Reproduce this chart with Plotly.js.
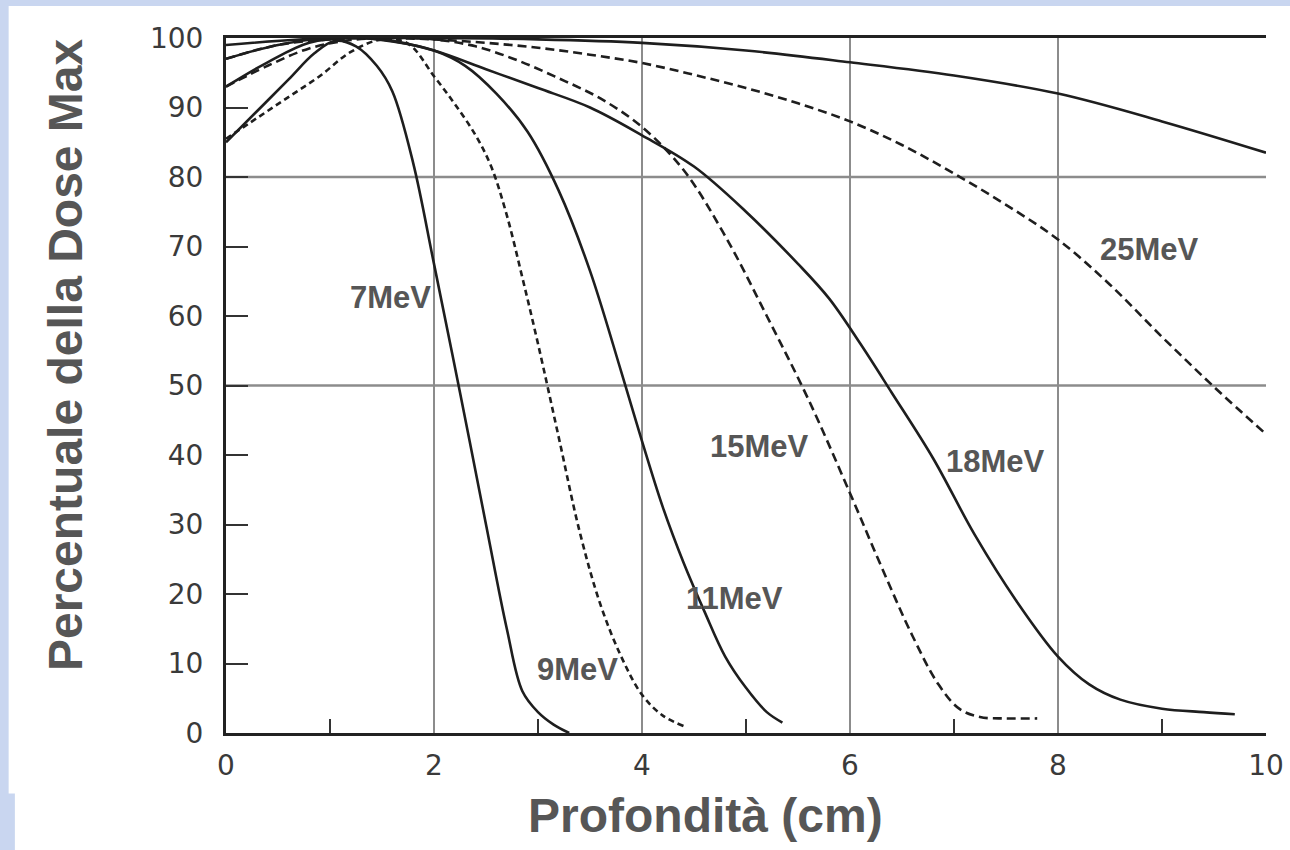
<!DOCTYPE html>
<html>
<head>
<meta charset="utf-8">
<script src="https://cdn.plot.ly/plotly-3.0.1.min.js"></script>
<style>html,body{margin:0;padding:0;background:#c9d6f0;}#chart{width:1290px;height:850px;}</style>
</head>
<body>
<div id="chart"></div>
<script>
// ---- Data (depth in cm, percent of max dose) ----
const x7  = [0, 0.3, 0.6, 0.85, 1.05, 1.25, 1.45, 1.6, 1.8, 2.0, 2.25, 2.5, 2.7, 2.85, 3.0, 3.15, 3.3];
const y7  = [85, 89.5, 94, 97.8, 99.6, 98.8, 96, 92.3, 82, 67.5, 49, 30, 15, 6, 3, 1.2, 0];

const x9  = [0, 0.3, 0.6, 0.9, 1.2, 1.5, 1.75, 2.0, 2.2, 2.4, 2.55, 2.7, 2.85, 3.0, 3.2, 3.4, 3.6, 3.8, 4.0, 4.2, 4.4];
const y9  = [85.5, 88.5, 91.5, 94.5, 98, 99.8, 99.2, 94.5, 90.5, 86, 81.5, 74.5, 65.5, 56, 42.5, 29, 18.5, 11, 5.5, 2.5, 1.0];

const x11 = [0, 0.4, 0.8, 1.2, 1.6, 2.0, 2.3, 2.6, 2.9, 3.2, 3.5, 3.8, 4.0, 4.2, 4.4, 4.6, 4.8, 5.0, 5.2, 5.35];
const y11 = [93, 96.5, 99.3, 100, 99.5, 98.2, 96, 92, 86.5, 78, 66.5, 52, 42, 32.5, 24.5, 17.5, 11, 6.5, 3, 1.5];

const x15 = [0, 0.4, 0.8, 1.2, 1.6, 2.0, 2.4, 2.8, 3.2, 3.6, 4.0, 4.4, 4.8, 5.2, 5.6, 6.0, 6.3, 6.6, 6.85, 7.05, 7.25, 7.5, 7.8];
const y15 = [93, 96, 98.5, 99.7, 100, 99.8, 98.8, 96.8, 94.2, 91.3, 87.2, 81, 71.5, 60, 48, 34.5, 24, 14, 7, 3.5, 2.3, 2.1, 2.1];

const x18 = [0, 0.5, 1.0, 1.5, 2.0, 2.5, 3.0, 3.5, 4.0, 4.5, 5.0, 5.5, 5.8, 6.1, 6.4, 6.8, 7.2, 7.6, 8.0, 8.3, 8.6, 9.0, 9.4, 9.7];
const y18 = [97, 99, 100, 99.8, 98.2, 95.5, 92.8, 90, 86, 81.5, 75, 67.5, 62.5, 56, 49, 39.5, 28.5, 19, 11, 7, 4.8, 3.5, 3, 2.7];

const x25 = [0, 0.5, 1.0, 1.5, 2.0, 2.5, 3.0, 3.5, 4.0, 4.5, 5.0, 5.5, 6.0, 6.5, 7.0, 7.5, 8.0, 8.5, 9.0, 9.5, 10];
const y25 = [97, 99, 99.8, 100, 99.8, 99.3, 98.6, 97.6, 96.4, 94.7, 92.8, 90.6, 88.0, 84.6, 80.5, 76, 71, 64.5, 57, 49.8, 43];

const xTop = [0, 1, 2, 3, 4, 5, 6, 7, 8, 9, 10];
const yTop = [99, 100, 100, 99.8, 99.3, 98.2, 96.5, 94.6, 92, 88, 83.5];

const curveLabels = ["7MeV", "9MeV", "11MeV", "15MeV", "18MeV", "25MeV"];
const labelX = [1.58, 3.38, 4.89, 5.13, 7.4, 8.88];
const labelY = [62.7, 9.1, 19.4, 41.2, 39.0, 69.6];

const xTicks = [0, 2, 4, 6, 8, 10];
const yTicks = [0, 10, 20, 30, 40, 50, 60, 70, 80, 90, 100];
const xMinor = [1, 3, 5, 7, 9];
const yGrid = [50, 80];

const xTitle = "Profondità (cm)";
const yTitle = "Percentuale della Dose Max";

// ---- Traces ----
const lineCol = "#1e1e1e";
function tr(x, y, name, dash) {
  return {x: x, y: y, name: name, type: "scatter", mode: "lines",
    line: {color: lineCol, width: 2.6, dash: dash, shape: "spline", smoothing: 1.0},
    hoverinfo: "x+y+name"};
}
const data = [
  tr(x7, y7, "7MeV", "solid"),
  tr(x9, y9, "9MeV", "6px,4px"),
  tr(x11, y11, "11MeV", "solid"),
  tr(x15, y15, "15MeV", "9px,5px"),
  tr(x18, y18, "18MeV", "solid"),
  tr(x25, y25, "25MeV", "9px,5px"),
  tr(xTop, yTop, "", "solid")
];

const gridCol = "#8c8c8c";
const shapes = [
  // white page area over the blue textured background
  {type: "rect", xref: "paper", yref: "paper", x0: -0.209, x1: 1.03, y0: -0.087, y1: 1.046,
   fillcolor: "white", line: {width: 0}, layer: "below"},
  {type: "rect", xref: "paper", yref: "paper", x0: -0.203, x1: 1.03, y0: -0.2, y1: -0.086,
   fillcolor: "white", line: {width: 0}, layer: "below"}
];
yGrid.forEach(v => shapes.push({type: "line", xref: "paper", yref: "y", x0: 0, x1: 1, y0: v, y1: v,
  line: {color: gridCol, width: 2.5}, layer: "below"}));

const annotations = curveLabels.map((t, i) => ({
  x: labelX[i], y: labelY[i], xref: "x", yref: "y", text: t, showarrow: false,
  font: {family: "Liberation Sans, Arial, sans-serif", size: 31, color: "#565656", weight: "bold"}
}));
annotations.push({x: 0.4606, y: -0.118, xref: "paper", yref: "paper", text: xTitle, showarrow: false,
  xanchor: "center", yanchor: "middle",
  font: {family: "Liberation Sans, Arial, sans-serif", size: 48, color: "#565656", weight: "bold"}});
annotations.push({x: -0.155, y: 0.545, xref: "paper", yref: "paper", text: yTitle, showarrow: false,
  textangle: -90, xanchor: "center", yanchor: "middle",
  font: {family: "Liberation Sans, Arial, sans-serif", size: 48, color: "#565656", weight: "bold"}});

const tickFont = {family: "DejaVu Sans, sans-serif", size: 28, color: "#3a3a3a"};

const layout = {
  width: 1290, height: 850,
  margin: {l: 226, r: 24, t: 38, b: 117},
  paper_bgcolor: "#c9d6f0",
  plot_bgcolor: "white",
  showlegend: false,
  xaxis: {
    range: [0, 10], tickvals: xTicks, ticktext: xTicks.map(String),
    showgrid: true, gridcolor: gridCol, gridwidth: 2.5,
    zeroline: false, showline: true, linecolor: "#222", linewidth: 3, mirror: true,
    ticks: "", tickfont: tickFont, ticklabelstandoff: 5,
    minor: {tickvals: xMinor, ticks: "inside", ticklen: 14, tickwidth: 2, tickcolor: "#333", showgrid: false},
    fixedrange: true
  },
  yaxis: {
    range: [0, 100], tickvals: yTicks, ticktext: yTicks.map(String),
    showgrid: false, zeroline: false, showline: true, linecolor: "#222", linewidth: 3,
    ticks: "inside", ticklen: 22, tickwidth: 2, tickcolor: "#333",
    tickfont: tickFont, ticklabelstandoff: 14, fixedrange: true
  },
  shapes: shapes,
  annotations: annotations
};

Plotly.newPlot("chart", data, layout, {displayModeBar: false, staticPlot: true});
</script>
</body>
</html>
